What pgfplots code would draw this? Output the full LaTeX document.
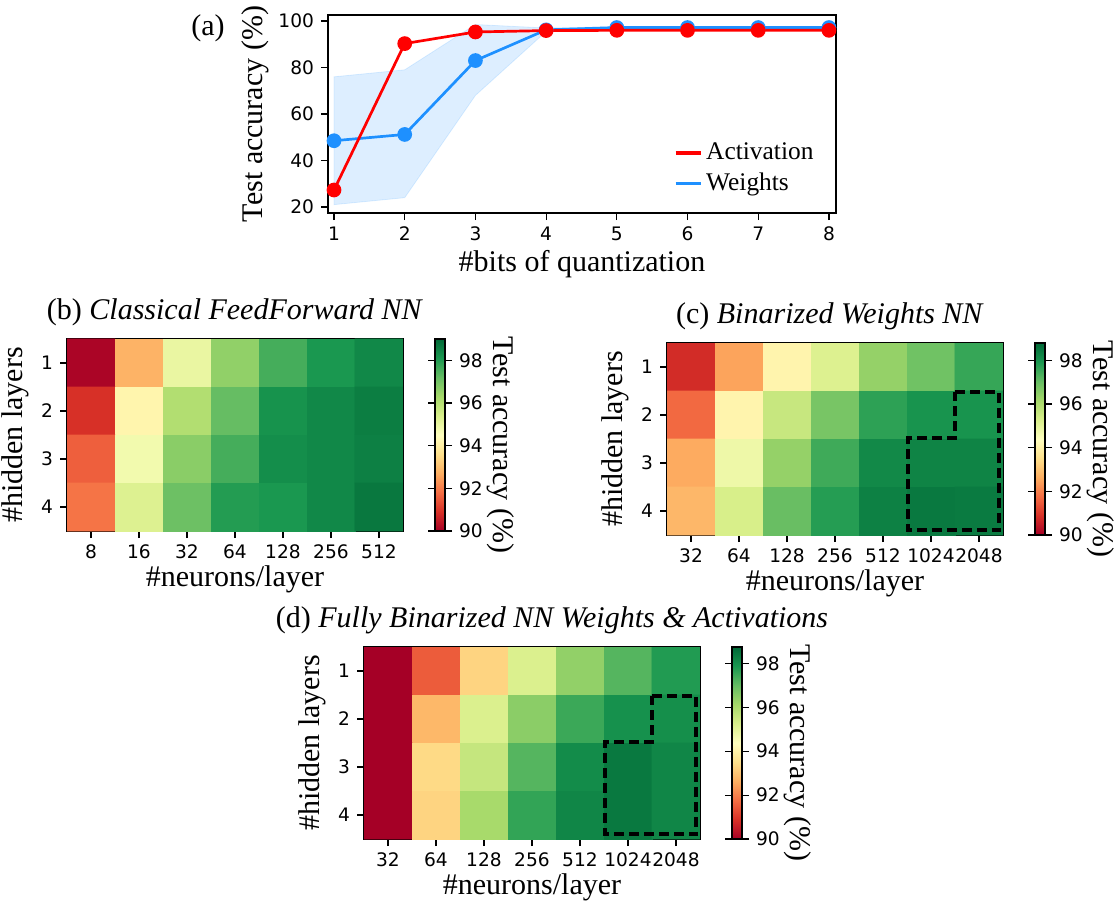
\documentclass[border=0pt]{standalone}
\usepackage{fontspec}
\setmainfont{Liberation Serif}
\newfontfamily\dejavu{DejaVu Sans}
\usepackage{pgfplots}
\pgfplotsset{compat=1.18}
\usepackage{pgfplotstable}

\definecolor{dodger}{RGB}{30,144,255}
\pgfplotsset{
  colormap={rdylgn}{rgb255=(165,0,38) rgb255=(215,48,39) rgb255=(244,109,67) rgb255=(253,174,97) rgb255=(254,224,139) rgb255=(255,255,191) rgb255=(217,239,139) rgb255=(166,217,106) rgb255=(102,189,99) rgb255=(26,152,80) rgb255=(0,104,55)},
  every axis/.append style={
    /pgf/number format/assume math mode=true,
    tick label style={font=\dejavu\fontsize{9.3}{11}\selectfont},
    label style={font=\fontsize{15}{17}\selectfont},
    tick style={black, line width=0.6pt},
    major tick length=3.5pt,
    tick align=outside,
    axis line style={line width=0.7pt},
  },
  mplstyle/.style={
    scale only axis,
    xtick pos=left, ytick pos=left,
  },
  heat/.style={
    mplstyle,
    width=168pt, height=96pt,
    xmin=-0.5, xmax=6.5, ymin=0.5, ymax=4.5,
    y dir=reverse,
    enlargelimits=false,
    xtick={0,...,6}, ytick={1,2,3,4},
    xlabel={\#neurons/layer}, ylabel={\#hidden layers},
    xlabel style={yshift=3.5pt},
    ylabel style={yshift=-1pt},
    colormap name=rdylgn,
    colorbar,
    point meta min=90,
    title style={font=\fontsize{15}{17}\selectfont, yshift=-3pt},
    colorbar style={
      at={(parent axis.north east)}, anchor=north west, xshift=7.5pt,
      width=5pt,
      ytick={90,92,...,98},
      ylabel={Test accuracy (\%)},
      ylabel style={rotate=180, yshift=-5pt, xshift=5pt},
    },
  },
}

\pgfplotstableread{
x y z
0 1 90.1
1 1 92.8
2 1 95.0
3 1 96.6
4 1 97.6
5 1 98.1
6 1 98.4
0 2 90.9
1 2 94.2
2 2 96.1
3 2 97.2
4 2 98.2
5 2 98.4
6 2 98.6
0 3 91.6
1 3 94.8
2 3 96.7
3 3 97.6
4 3 98.3
5 3 98.4
6 3 98.55
0 4 91.9
1 4 95.3
2 4 97.1
3 4 98.0
4 4 98.1
5 4 98.4
6 4 98.7
}\tabB

\pgfplotstableread{
x y z
0 1 90.8
1 1 92.5
2 1 94.1
3 1 95.2
4 1 96.4
5 1 96.9
6 1 97.6
0 2 91.7
1 2 94.1
2 2 95.6
3 2 96.8
4 2 97.7
5 2 98.0
6 2 98.0
0 3 92.6
1 3 94.8
2 3 96.4
3 3 97.5
4 3 98.2
5 3 98.3
6 3 98.3
0 4 92.8
1 4 95.3
2 4 97.0
3 4 97.8
4 4 98.35
5 4 98.5
6 4 98.45
}\tabC

\pgfplotstableread{
x y z
0 1 90.0
1 1 91.5
2 1 93.3
3 1 95.2
4 1 96.4
5 1 97.2
6 1 97.8
0 2 90.0
1 2 92.8
2 2 95.2
3 2 96.5
4 2 97.5
5 2 98.0
6 2 98.05
0 3 90.0
1 3 93.4
2 3 95.6
3 3 97.2
4 3 98.1
5 3 98.45
6 3 98.2
0 4 90.0
1 4 93.3
2 4 96.1
3 4 97.6
4 4 98.2
5 4 98.45
6 4 98.2
}\tabD

\begin{document}
\begin{tikzpicture}
\useasboundingbox (0,0) rectangle (560pt,451pt);

% (a)
\begin{axis}[mplstyle,
  at={(164pt,344.5pt)}, anchor=south west,
  width=254pt, height=99pt,
  xmin=0.915, xmax=8.1, ymin=17.4, ymax=102.6,
  xtick={1,...,8}, ytick={20,40,...,100},
  xlabel={\#bits of quantization}, ylabel={Test accuracy (\%)},
  xlabel style={yshift=2pt},
  ylabel style={yshift=-2pt},
  legend style={at={(0.68,0.375)}, anchor=north west, draw=none, fill=none,
    inner sep=0pt, font=\fontsize{12.7}{14}\selectfont, row sep=1pt},
  legend cell align=left,
  legend image code/.code={\draw[#1] (0cm,0cm) -- (12.5pt,0cm);},
]
\addlegendimage{red, line width=1.7pt}
\addlegendentry{Activation}
\addlegendimage{dodger, line width=1.7pt}
\addlegendentry{Weights}
\addplot[fill=dodger, fill opacity=0.15, draw=dodger, draw opacity=0.15, forget plot]
  coordinates {(1,76)(2,79)(3,98.5)(4,97)(5,97.5)(6,97.5)(7,97.5)(8,97.5)
               (8,96.7)(7,96.7)(6,96.7)(5,96.7)(4,95.5)(3,68)(2,24)(1,21)} --cycle;
\addplot[dodger, line width=1.35pt, mark=*, mark size=3pt, forget plot]
  coordinates {(1,48.5)(2,51.2)(3,83)(4,96.2)(5,97.2)(6,97.2)(7,97.2)(8,97.2)};
\addplot[red, line width=1.35pt, mark=*, mark size=3pt, forget plot]
  coordinates {(1,27.3)(2,90.3)(3,95.3)(4,95.9)(5,96)(6,96)(7,96)(8,96)};
\end{axis}
\node[font=\fontsize{15}{17}\selectfont] at (104pt,437pt) {(a)};

% (b)
\begin{axis}[heat,
  at={(33.5pt,185.5pt)}, anchor=south west,
  xticklabels={8,16,32,64,128,256,512},
  point meta max=99,
  title={(b) \textit{Classical FeedForward NN}},
]
\addplot[matrix plot*, mesh/cols=7, point meta=explicit] table[x=x, y=y, meta=z] {\tabB};
\end{axis}

% (c)
\begin{axis}[heat,
  at={(333.5pt,183.5pt)}, anchor=south west,
  xticklabels={32,64,128,256,512,1024,2048},
  point meta max=98.8,
  title={(c) \textit{Binarized Weights NN}},
  title style={xshift=-2.5pt},
]
\addplot[matrix plot*, mesh/cols=7, point meta=explicit] table[x=x, y=y, meta=z] {\tabC};
\addplot[black, line width=2pt, dash pattern=on 5pt off 2.5pt]
  coordinates {(5.5,1.52)(6.42,1.52)(6.42,4.4)(4.52,4.4)(4.52,2.48)(5.5,2.48)} --cycle;
\end{axis}

% (d)
\begin{axis}[heat,
  at={(182pt,31.5pt)}, anchor=south west,
  xticklabels={32,64,128,256,512,1024,2048},
  point meta max=98.75,
  title={(d) \textit{Fully Binarized NN Weights \& Activations}},
  title style={xshift=10pt},
]
\addplot[matrix plot*, mesh/cols=7, point meta=explicit] table[x=x, y=y, meta=z] {\tabD};
\addplot[black, line width=2pt, dash pattern=on 5pt off 2.5pt]
  coordinates {(5.5,1.52)(6.42,1.52)(6.42,4.4)(4.52,4.4)(4.52,2.48)(5.5,2.48)} --cycle;
\end{axis}
\end{tikzpicture}
\end{document}
